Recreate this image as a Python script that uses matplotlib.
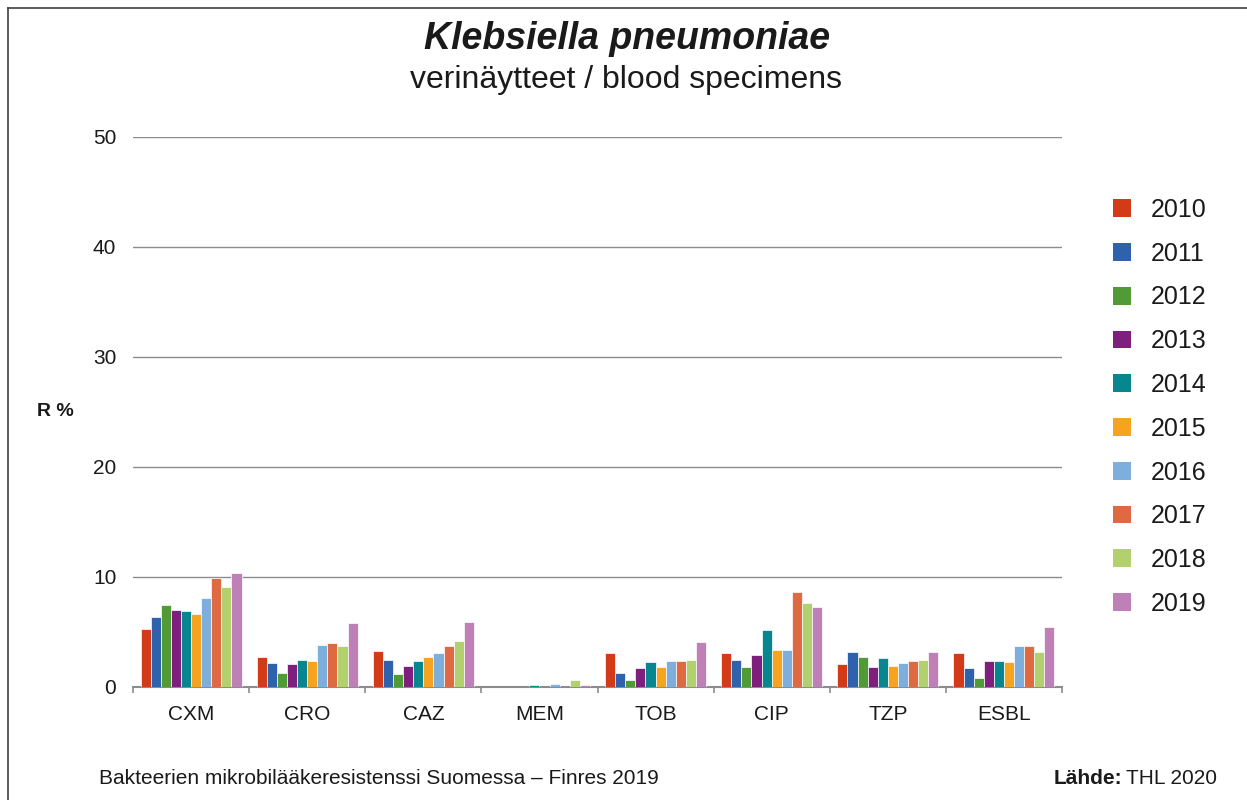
"""Klebsiella pneumoniae resistance in blood specimens, Finres 2019."""

import matplotlib
matplotlib.use("Agg")
import matplotlib.pyplot as plt
from matplotlib.lines import Line2D
from matplotlib.patches import Patch
import numpy as np

plt.rcParams["font.family"] = ["Liberation Sans", "DejaVu Sans"]

DRUGS = ["CXM", "CRO", "CAZ", "MEM", "TOB", "CIP", "TZP", "ESBL"]
YEARS = ["2010", "2011", "2012", "2013", "2014", "2015", "2016", "2017", "2018", "2019"]

# R % per drug, one list per year
R_2010 = [5.3, 2.7, 3.3, 0.0, 3.1, 3.1, 2.1, 3.1]
R_2011 = [6.4, 2.2, 2.5, 0.0, 1.3, 2.5, 3.2, 1.7]
R_2012 = [7.5, 1.3, 1.2, 0.0, 0.6, 1.8, 2.7, 0.8]
R_2013 = [7.0, 2.1, 1.9, 0.0, 1.7, 2.9, 1.8, 2.4]
R_2014 = [6.9, 2.5, 2.4, 0.2, 2.3, 5.2, 2.6, 2.4]
R_2015 = [6.6, 2.4, 2.7, 0.0, 1.8, 3.4, 1.9, 2.3]
R_2016 = [8.1, 3.8, 3.1, 0.3, 2.4, 3.4, 2.2, 3.7]
R_2017 = [9.9, 4.0, 3.7, 0.0, 2.4, 8.6, 2.4, 3.7]
R_2018 = [9.1, 3.7, 4.2, 0.6, 2.5, 7.6, 2.5, 3.2]
R_2019 = [10.4, 5.8, 5.9, 0.2, 4.1, 7.3, 3.2, 5.5]
SERIES = [R_2010, R_2011, R_2012, R_2013, R_2014, R_2015, R_2016, R_2017, R_2018, R_2019]

COLORS = [
    "#D33A17", "#2E62AD", "#519B37", "#7F1F7D", "#08868F",
    "#F6A31F", "#7EAEDB", "#DF6A42", "#B3D06F", "#BE80B6",
]
GRID = "#8C8C8C"
TEXT = "#1A1A1A"

W, H = 1247, 800
fig = plt.figure(figsize=(W / 100, H / 100), dpi=100)
ax = fig.add_axes([133 / W, 1 - 687 / H, (1062 - 133) / W, (687 - 137) / H])

centers = np.arange(len(DRUGS)) + 0.5
bar_w = 0.087
n = len(YEARS)
for i, (vals, col) in enumerate(zip(SERIES, COLORS)):
    offs = (i - (n - 1) / 2) * bar_w
    ax.bar(centers + offs, vals, width=bar_w, color=col, edgecolor="white",
           linewidth=0.5, zorder=3)

ax.set_xlim(0, len(DRUGS))
ax.set_ylim(0, 50)
ax.set_yticks([0, 10, 20, 30, 40, 50])
ax.yaxis.grid(True, color=GRID, linewidth=1.0)
ax.set_axisbelow(True)
ax.set_xticks(centers)
ax.set_xticklabels(DRUGS)
ax.set_xticks(np.arange(len(DRUGS) + 1), minor=True)
ax.tick_params(axis="x", which="major", length=0, pad=13, labelsize=15, labelcolor=TEXT)
ax.tick_params(axis="x", which="minor", length=4, width=1.2, color=GRID)
ax.tick_params(axis="y", length=0, pad=12, labelsize=15, labelcolor=TEXT)
for side in ["top", "right", "left"]:
    ax.spines[side].set_visible(False)
ax.spines["bottom"].set_color(GRID)
ax.spines["bottom"].set_linewidth(1.5)

fig.text(37 / W, 1 - 412 / H, "R %", fontsize=14, fontweight="bold",
         color=TEXT, ha="left", va="center")

fig.text(627 / W, 1 - 49 / H, "Klebsiella pneumoniae", fontsize=27,
         fontweight="bold", fontstyle="italic", color=TEXT, ha="center", va="baseline")
fig.text(626 / W, 1 - 88 / H, "verinäytteet / blood specimens", fontsize=23,
         color=TEXT, ha="center", va="baseline")

handles = [Patch(facecolor=c, edgecolor="none", label=y) for c, y in zip(COLORS, YEARS)]
fig.legend(handles=handles, loc="upper left", bbox_to_anchor=(1113 / W, 1 - 198 / H),
           frameon=False, fontsize=18, handlelength=0.72, handleheight=0.72,
           handletextpad=0.8, labelspacing=0.79, borderpad=0, borderaxespad=0,
           labelcolor=TEXT)

fig.text(99 / W, 1 - 778 / H, "Bakteerien mikrobilääkeresistenssi Suomessa – Finres 2019",
         fontsize=15, color=TEXT, ha="left", va="center")
src = fig.text(1217 / W, 1 - 778 / H, "THL 2020", fontsize=15, color=TEXT,
               ha="right", va="center")
fig.canvas.draw()
bb = src.get_window_extent()
fig.text((bb.x0 - 4) / W, 1 - 778 / H, "Lähde:", fontsize=15, fontweight="bold",
         color=TEXT, ha="right", va="center")

# frame round the picture (top and left edges only, like the source)
fig.add_artist(Line2D([8 / W, 1], [1 - 8 / H, 1 - 8 / H], transform=fig.transFigure,
                      color="#404040", linewidth=1.2))
fig.add_artist(Line2D([8 / W, 8 / W], [0, 1 - 8 / H], transform=fig.transFigure,
                      color="#404040", linewidth=1.2))

fig.savefig("out.png", dpi=100)
